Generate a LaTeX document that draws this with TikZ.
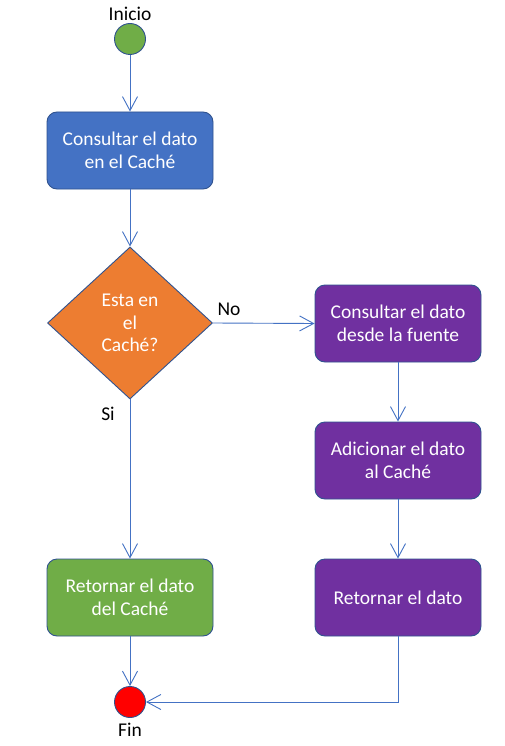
\documentclass[tikz,border=0pt]{standalone}
\usepackage{fontspec}
\setmainfont{Carlito}
\usetikzlibrary{shapes.geometric,arrows.meta}
\definecolor{obox}{HTML}{2F528F}
\definecolor{oline}{HTML}{4472C4}
\definecolor{oblue}{HTML}{4472C4}
\definecolor{ogreen}{HTML}{70AD47}
\definecolor{oorange}{HTML}{ED7D31}
\definecolor{opurple}{HTML}{7030A0}
\definecolor{ored}{HTML}{FF0000}
\tikzset{
  txt/.style={font=\fontsize{19.5}{22.5}\selectfont},
  actbox/.style={txt, draw=obox, line width=0.9pt, rounded corners=10pt, minimum width=166pt, minimum height=77pt, inner sep=0pt, align=center, text=white},
  decbox/.style={txt, diamond, draw=obox, line width=0.9pt, fill=oorange, minimum width=165pt, minimum height=152pt, inner sep=0pt, align=center, text=white},
  endpt/.style={circle, draw=obox, line width=0.9pt, minimum size=31pt, inner sep=0pt},
  lbl/.style={txt, text=black, inner sep=0pt},
  conn/.style={draw=oline, line width=0.9pt, -{Straight Barb[length=14pt,width=15pt,line width=0.9pt]}}
}
\begin{document}
\begin{tikzpicture}[x=1pt,y=-1pt]
\useasboundingbox[fill=white] (0,0) rectangle (504,746);
\node[endpt, fill=ogreen] (start) at (130,39) {};
\node[lbl] (inicio) at (130,14) {Inicio};
\node[actbox, fill=oblue] (b1) at (130,150.5) {Consultar el dato\\en el Caché};
\node[decbox] (d) at (130,323) {Esta en\\el\\Caché?};
\node[actbox, fill=opurple] (b2) at (398,323.5) {Consultar el dato\\desde la fuente};
\node[actbox, fill=opurple] (b3) at (398,460.5) {Adicionar el dato\\al Caché};
\node[actbox, fill=opurple] (b4) at (398,597.5) {Retornar el dato};
\node[actbox, fill=ogreen] (g) at (130,597.5) {Retornar el dato\\del Caché};
\node[endpt, fill=ored] (fin) at (130,702) {};
\node[lbl] (finl) at (130,730) {Fin};
\node[lbl] (no) at (229,309) {No};
\node[lbl] (si) at (108,414) {Si};
\draw[conn] (start) -- (b1);
\draw[conn] (b1) -- (d);
\draw[conn] (d.east) -- (b2.west);
\draw[conn] (d.south) -- (g.north);
\draw[conn] (b2) -- (b3);
\draw[conn] (b3) -- (b4);
\draw[conn] (g) -- (fin);
\draw[conn] (b4.south) |- (fin.east);
\end{tikzpicture}
\end{document}
